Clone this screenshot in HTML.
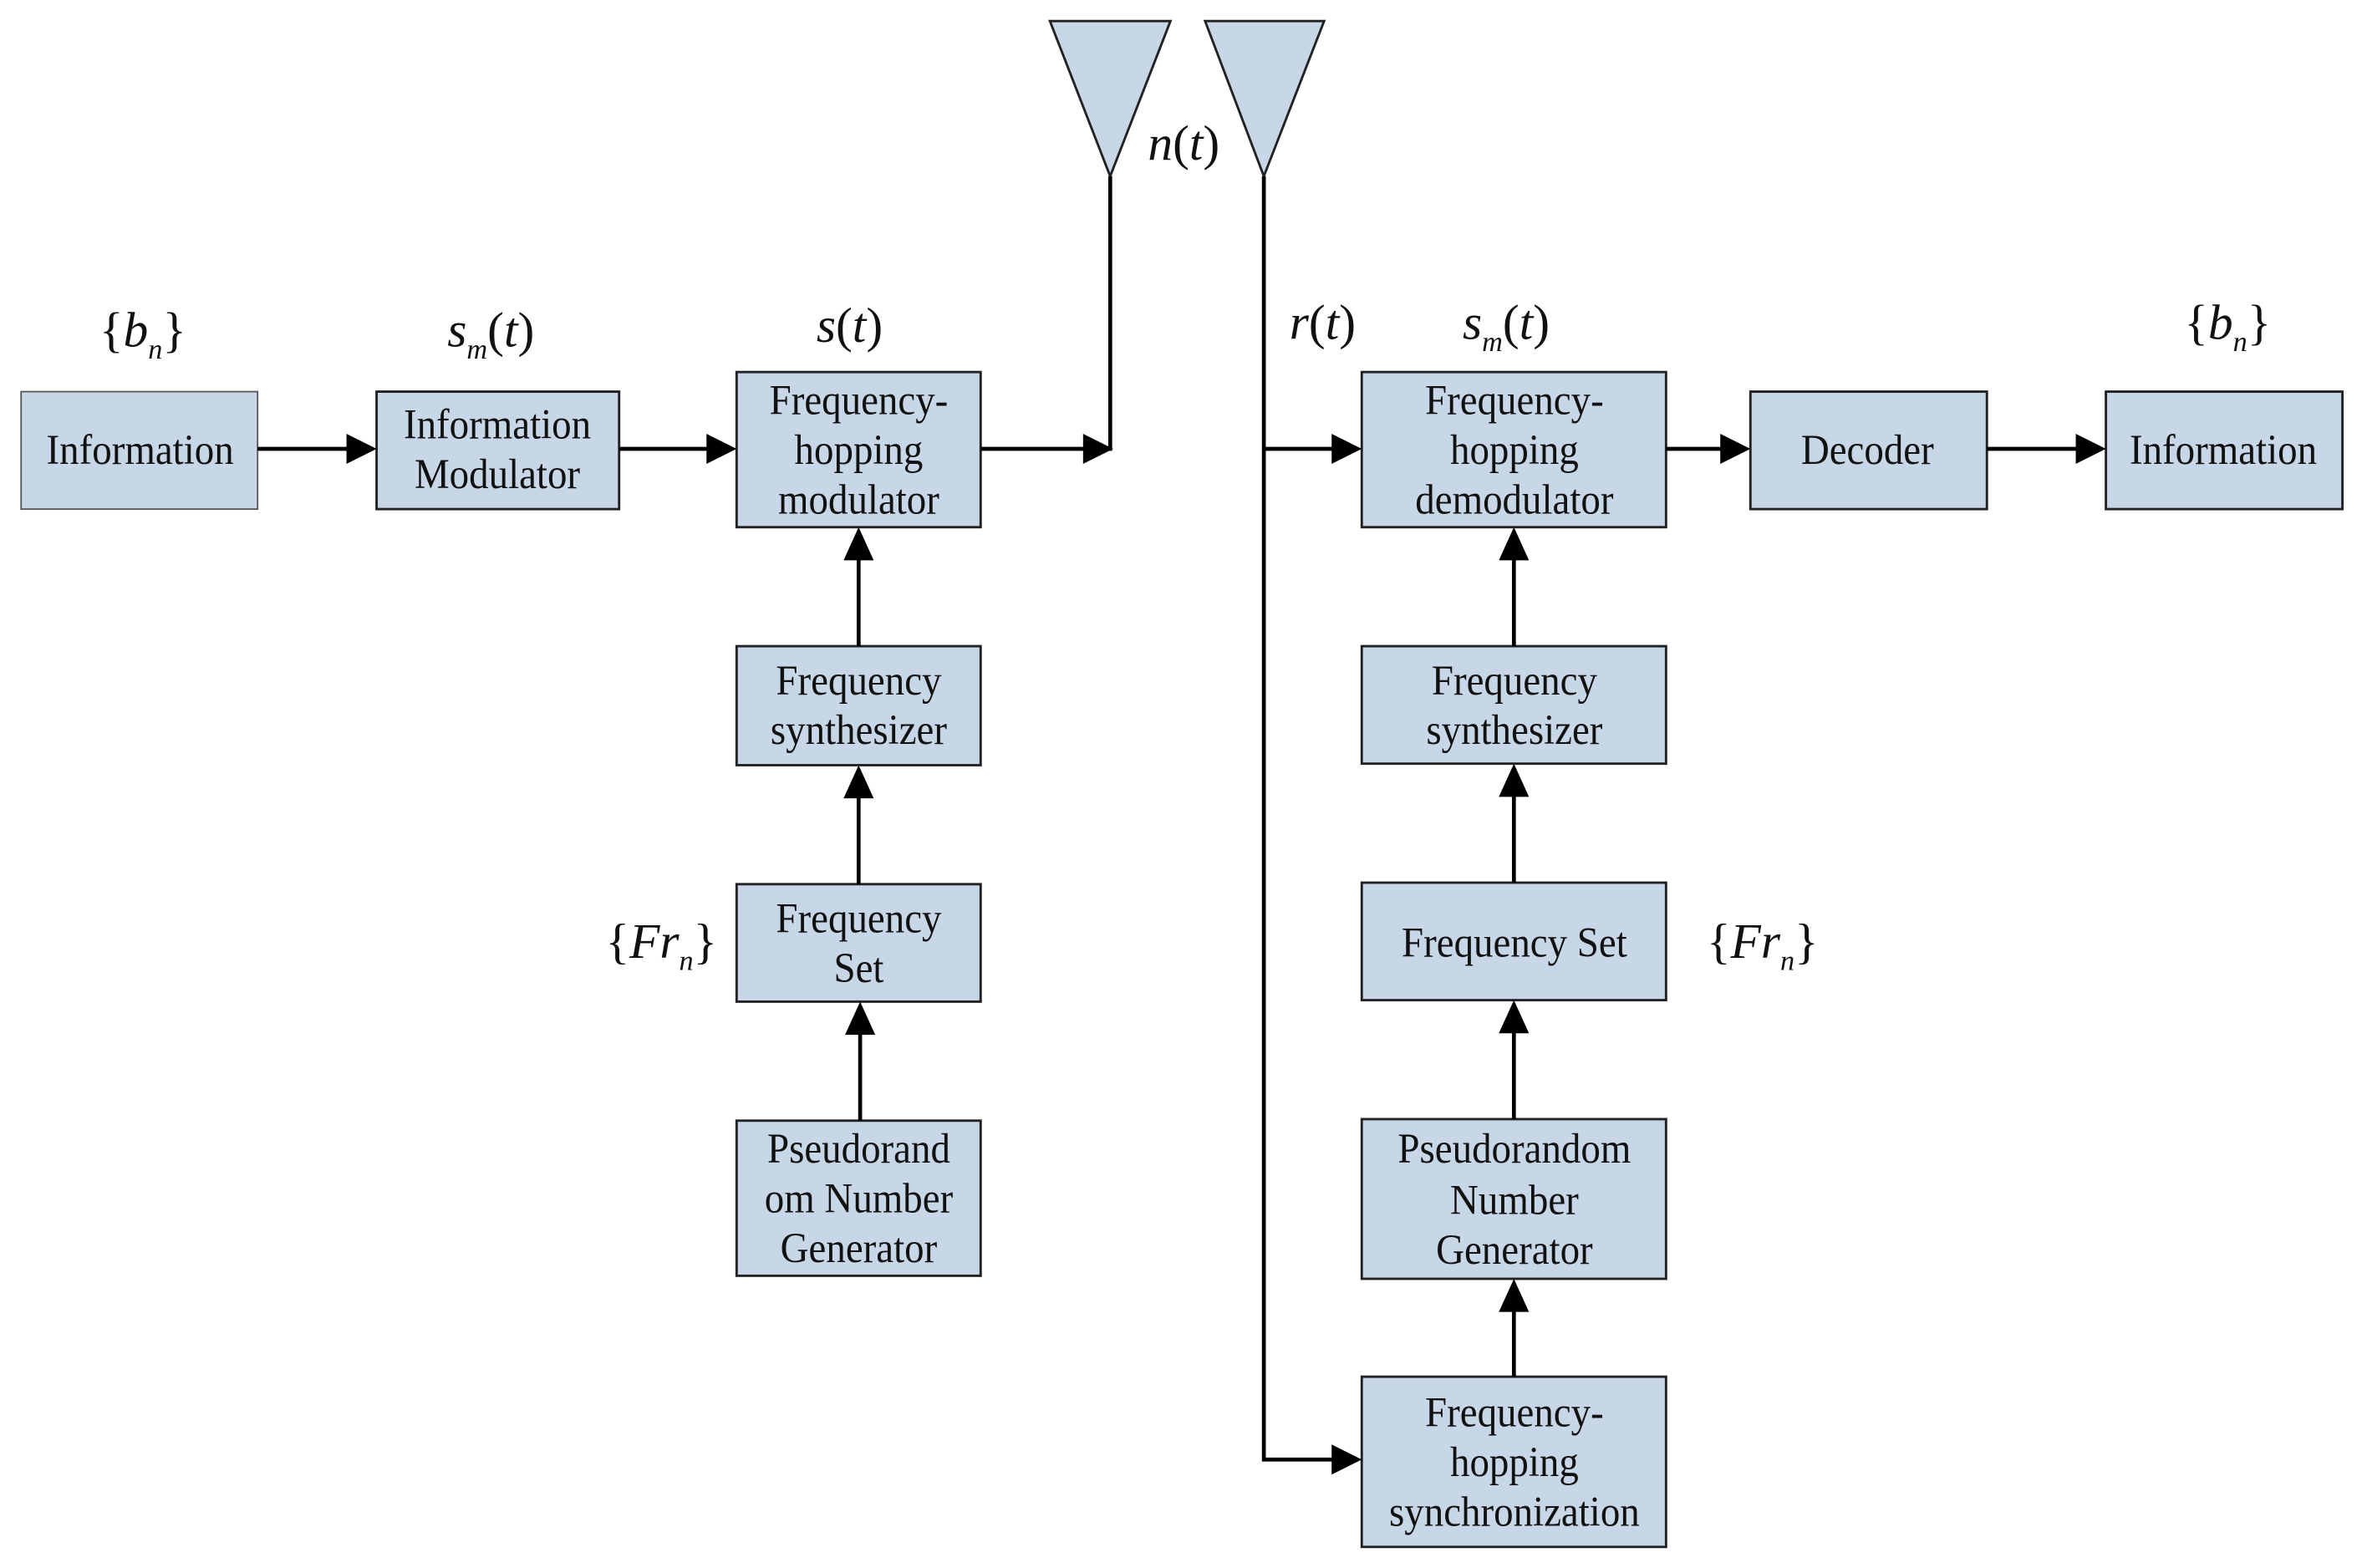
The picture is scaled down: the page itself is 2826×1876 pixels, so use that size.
<!DOCTYPE html>
<html><head><style>html,body{margin:0;padding:0;background:#fff}svg{display:block}</style></head>
<body>
<svg width="2826" height="1876" viewBox="0 0 1568 1041" preserveAspectRatio="none" xmlns="http://www.w3.org/2000/svg">
<g fill="#c8d7e7" stroke="#222" stroke-width="1.6">
<rect x="14" y="260" width="157" height="78" stroke="#555" stroke-width="1"/>
<rect x="250" y="260" width="161" height="78"/>
<rect x="489" y="247" width="162" height="103"/>
<rect x="489" y="429" width="162" height="79"/>
<rect x="489" y="587" width="162" height="78"/>
<rect x="489" y="744" width="162" height="103"/>
<rect x="904" y="247" width="202" height="103"/>
<rect x="1162" y="260" width="157" height="78"/>
<rect x="1398" y="260" width="157" height="78"/>
<rect x="904" y="429" width="202" height="78"/>
<rect x="904" y="586" width="202" height="78"/>
<rect x="904" y="743" width="202" height="106"/>
<rect x="904" y="914" width="202" height="113"/>
<polygon points="697,14 777,14 737,117"/>
<polygon points="800,14 879,14 839,117"/>
</g>
<g stroke="#000" stroke-width="2.6" fill="none">
<line x1="171" y1="298" x2="235" y2="298"/>
<line x1="411" y1="298" x2="474" y2="298"/>
<polyline points="651,298 737,298 737,117"/>
<line x1="570" y1="429" x2="570" y2="365"/>
<line x1="570" y1="587" x2="570" y2="523"/>
<line x1="571" y1="744" x2="571" y2="680"/>
<polyline points="839,117 839,969 889,969"/>
<line x1="839" y1="298" x2="889" y2="298"/>
<line x1="1106" y1="298" x2="1147" y2="298"/>
<line x1="1319" y1="298" x2="1383" y2="298"/>
<line x1="1005" y1="429" x2="1005" y2="365"/>
<line x1="1005" y1="586" x2="1005" y2="522"/>
<line x1="1005" y1="743" x2="1005" y2="679"/>
<line x1="1005" y1="914" x2="1005" y2="864"/>
</g>
<g fill="#000">
<polygon points="250,298 230,288 230,308"/>
<polygon points="489,298 469,288 469,308"/>
<polygon points="739,298 719,288 719,308"/>
<polygon points="904,298 884,288 884,308"/>
<polygon points="904,969 884,959 884,979"/>
<polygon points="1162,298 1142,288 1142,308"/>
<polygon points="1398,298 1378,288 1378,308"/>
<polygon points="570,350 560,372 580,372"/>
<polygon points="570,508 560,530 580,530"/>
<polygon points="571,665 561,687 581,687"/>
<polygon points="1005,350 995,372 1015,372"/>
<polygon points="1005,507 995,529 1015,529"/>
<polygon points="1005,664 995,686 1015,686"/>
<polygon points="1005,849 995,871 1015,871"/>
</g>
<g font-family="'Liberation Serif', serif" font-size="28" text-anchor="middle" fill="#111">
<g transform="scale(0.93,1)">
<text x="100" y="308">Information</text>
<text x="355" y="291">Information</text>
<text x="355" y="324">Modulator</text>
<text x="613" y="275">Frequency-</text>
<text x="613" y="308">hopping</text>
<text x="613" y="341">modulator</text>
<text x="613" y="461">Frequency</text>
<text x="613" y="494">synthesizer</text>
<text x="613" y="619">Frequency</text>
<text x="613" y="652">Set</text>
<text x="613" y="772">Pseudorand</text>
<text x="613" y="805">om Number</text>
<text x="613" y="838">Generator</text>
<text x="1081" y="275">Frequency-</text>
<text x="1081" y="308">hopping</text>
<text x="1081" y="341">demodulator</text>
<text x="1333" y="308">Decoder</text>
<text x="1587" y="308">Information</text>
<text x="1081" y="461">Frequency</text>
<text x="1081" y="494">synthesizer</text>
<text x="1081" y="635">Frequency Set</text>
<text x="1081" y="772">Pseudorandom</text>
<text x="1081" y="806">Number</text>
<text x="1081" y="839">Generator</text>
<text x="1081" y="947">Frequency-</text>
<text x="1081" y="980">hopping</text>
<text x="1081" y="1013">synchronization</text>
</g>
</g>
<g font-family="'Liberation Serif', serif" font-size="33" fill="#111">
<text x="66" y="230">{<tspan font-style="italic">b</tspan><tspan font-style="italic" font-size="19" dy="8">n</tspan><tspan dy="-8">}</tspan></text>
<text x="297" y="230"><tspan font-style="italic">s</tspan><tspan font-style="italic" font-size="19" dy="8">m</tspan><tspan dy="-8">(</tspan><tspan font-style="italic">t</tspan>)</text>
<text x="542" y="227"><tspan font-style="italic">s</tspan>(<tspan font-style="italic">t</tspan>)</text>
<text x="762" y="106"><tspan font-style="italic">n</tspan>(<tspan font-style="italic">t</tspan>)</text>
<text x="856" y="225"><tspan font-style="italic">r</tspan>(<tspan font-style="italic">t</tspan>)</text>
<text x="971" y="225"><tspan font-style="italic">s</tspan><tspan font-style="italic" font-size="19" dy="8">m</tspan><tspan dy="-8">(</tspan><tspan font-style="italic">t</tspan>)</text>
<text x="1450" y="225">{<tspan font-style="italic">b</tspan><tspan font-style="italic" font-size="19" dy="8">n</tspan><tspan dy="-8">}</tspan></text>
<text x="402" y="636">{<tspan font-style="italic">Fr</tspan><tspan font-style="italic" font-size="19" dy="8">n</tspan><tspan dy="-8">}</tspan></text>
<text x="1133" y="636">{<tspan font-style="italic">Fr</tspan><tspan font-style="italic" font-size="19" dy="8">n</tspan><tspan dy="-8">}</tspan></text>
</g>
</svg>
</body></html>
